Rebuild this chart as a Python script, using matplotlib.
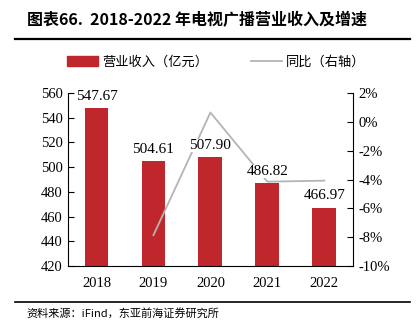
import matplotlib
matplotlib.use("Agg")
import matplotlib.pyplot as plt
from matplotlib.ticker import FuncFormatter
from matplotlib.lines import Line2D
from matplotlib.patches import Patch

years = ["2018", "2019", "2020", "2021", "2022"]
revenue = [547.67, 504.61, 507.90, 486.82, 466.97]
growth_years = ["2019", "2020", "2021", "2022"]
growth = [-7.86, 0.65, -4.15, -4.08]

title = "图表66.  2018-2022 年电视广播营业收入及增速"
source = "资料来源：iFind，东亚前海证券研究所"
bar_label = "营业收入（亿元）"
line_label = "同比（右轴）"

cjk = ["Noto Sans CJK SC", "DejaVu Sans"]
serif = ["Liberation Serif", "DejaVu Serif"]

fig = plt.figure(figsize=(4.2, 3.3), dpi=100)
ax = fig.add_axes([0.162, 0.194, 0.678, 0.524])

x = list(range(len(years)))
bar_color = "#C0272D"
ax.bar(x, revenue, width=0.42, color=bar_color, zorder=2)
ax.set_ylim(420, 560)
ax.set_yticks(range(420, 561, 20))
ax.set_xlim(-0.5, len(years) - 0.5)
ax.set_xticks(x)
ax.set_xticklabels(years)

ax2 = ax.twinx()
gx = [years.index(y) for y in growth_years]
ax2.plot(gx, growth, color="#B4B4B4", lw=1.3, zorder=3)
ax2.set_ylim(-10, 2)
ax2.set_yticks(range(-10, 3, 2))
ax2.yaxis.set_major_formatter(FuncFormatter(lambda v, p: f"{int(round(v))}%"))

for xi, v in zip(x, revenue):
    ax2.annotate(f"{v:.2f}", (xi, v), xycoords=ax.transData, xytext=(0, 4),
                 textcoords="offset points", ha="center", va="bottom",
                 fontsize=11, family=serif, zorder=5,
                 bbox=dict(boxstyle="square,pad=0.0", fc="white", ec="none"))

for a in (ax, ax2):
    a.spines["top"].set_visible(False)
    a.tick_params(direction="in", length=4, width=0.8, labelsize=10.5, pad=4)
    for lab in a.get_yticklabels() + a.get_xticklabels():
        lab.set_family(serif)
ax.tick_params(axis="x", length=0, pad=8)
ax2.spines["bottom"].set_visible(False)
ax.spines["right"].set_visible(False)
ax2.spines["left"].set_visible(False)
ax2.set_zorder(ax.get_zorder() + 1)
ax2.patch.set_visible(False)

handles = [Patch(color=bar_color), Line2D([0], [0], color="#B4B4B4", lw=1.3)]
fig.legend(handles, [bar_label, line_label], loc="center", bbox_to_anchor=(0.515, 0.812),
           ncol=2, frameon=False, prop={"family": cjk, "size": 9.5},
           handlelength=2.4, handleheight=0.9, columnspacing=3.2, handletextpad=0.3)

fig.text(0.064, 0.938, title, fontsize=11.5, fontweight="bold", family=cjk,
         ha="left", va="center")
fig.add_artist(Line2D([0.036, 0.976], [0.882, 0.882], color="black", lw=1.6))
fig.add_artist(Line2D([0.036, 0.976], [0.085, 0.085], color="black", lw=1.2))
fig.text(0.064, 0.052, source, fontsize=8, family=cjk, ha="left", va="center")

fig.savefig("out.png", dpi=100)
